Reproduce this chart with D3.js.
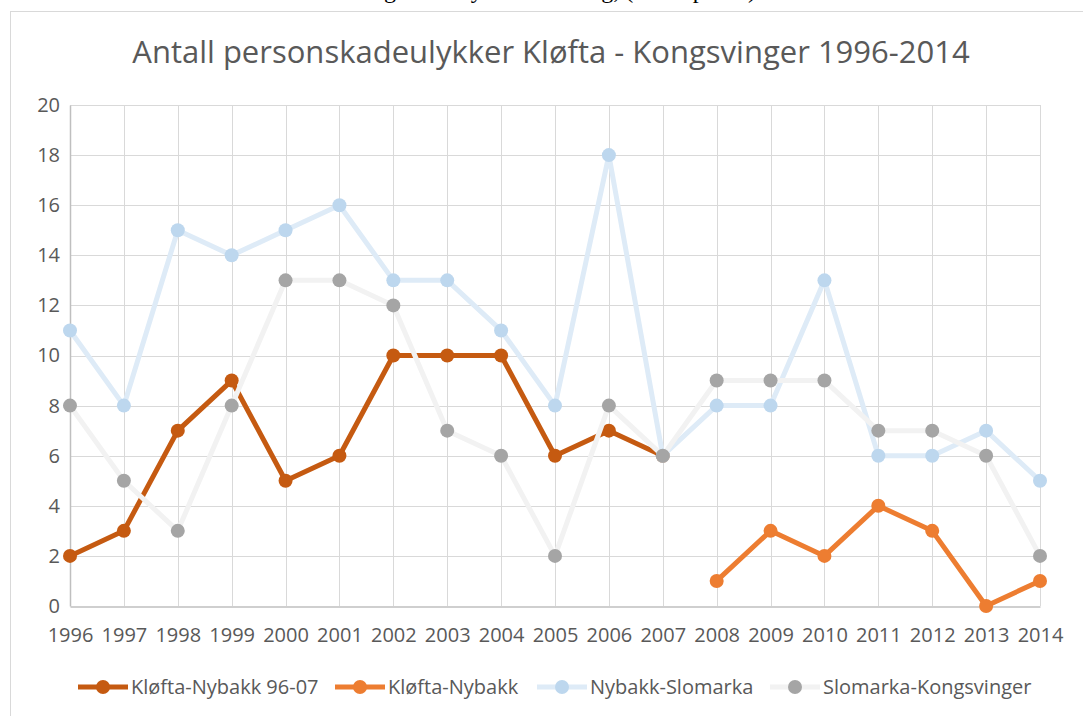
<!DOCTYPE html>
<html>
<head>
<meta charset="utf-8">
<script src="https://cdn.jsdelivr.net/npm/d3@7"></script>
<style>
  body { margin: 0; background: #fff; }
  text { font-family: "Open Sans", "Noto Sans", sans-serif; }
</style>
</head>
<body>
<script>
// data
const years = [1996, 1997, 1998, 1999, 2000, 2001, 2002, 2003, 2004, 2005, 2006, 2007, 2008, 2009, 2010, 2011, 2012, 2013, 2014]
const seriesNames = ["Kløfta-Nybakk 96-07", "Kløfta-Nybakk", "Nybakk-Slomarka", "Slomarka-Kongsvinger"]
const klofta9607 = [2, 3, 7, 9, 5, 6, 10, 10, 10, 6, 7, 6, null, null, null, null, null, null, null]
const kloftaNybakk = [null, null, null, null, null, null, null, null, null, null, null, null, 1, 3, 2, 4, 3, 0, 1]
const nybakkSlomarka = [11, 8, 15, 14, 15, 16, 13, 13, 11, 8, 18, 6, 8, 8, 13, 6, 6, 7, 5]
const slomarkaKongsvinger = [8, 5, 3, 8, 13, 13, 12, 7, 6, 2, 8, 6, 9, 9, 9, 7, 7, 6, 2]
const yTicks = [0, 2, 4, 6, 8, 10, 12, 14, 16, 18, 20]

const styles = [
  { line: "#c55a11", dot: "#c55a11" },
  { line: "#ed7d31", dot: "#ed7d31" },
  { line: "#deebf7", dot: "#bdd7ee" },
  { line: "#f2f2f2", dot: "#a5a5a5" }
]
const allValues = [klofta9607, kloftaNybakk, nybakkSlomarka, slomarkaKongsvinger]

let width = 1083
let height = 716
let margin = { top: 105, right: 43, bottom: 110, left: 70 }

const svg = d3.select("body").append("svg")
  .attr("width", width)
  .attr("height", height)

// caption from the page above the chart, only its lower edge shows
svg.append("text")
  .attr("x", 560).attr("y", -2)
  .attr("text-anchor", "middle")
  .style("font-family", "'Liberation Serif', serif")
  .style("font-size", "24px")
  .attr("fill", "#000")
  .text("Figur 3: Ulykkesutvikling, (antall per år)")

// chart frame
svg.append("rect")
  .attr("x", 10.5).attr("y", 11.5)
  .attr("width", width).attr("height", height)
  .attr("fill", "#fff")
  .attr("stroke", "#d9d9d9")

const x = d3.scalePoint()
  .domain(years)
  .range([margin.left, width - margin.right])

const y = d3.scaleLinear()
  .domain([0, 20])
  .range([height - margin.bottom, margin.top])

// title
svg.append("text")
  .attr("x", 551).attr("y", 63)
  .attr("text-anchor", "middle")
  .attr("fill", "#595959")
  .style("font-size", "31px")
  .text("Antall personskadeulykker Kløfta - Kongsvinger 1996-2014")

// grid
svg.append("g")
  .selectAll("line")
  .data(yTicks.slice(1))
  .join("line")
  .attr("x1", margin.left).attr("x2", width - margin.right)
  .attr("y1", d => Math.round(y(d)) + 0.5).attr("y2", d => Math.round(y(d)) + 0.5)
  .attr("stroke", "#d9d9d9")

svg.append("g")
  .selectAll("line")
  .data(years)
  .join("line")
  .attr("x1", d => Math.round(x(d)) + 0.5).attr("x2", d => Math.round(x(d)) + 0.5)
  .attr("y1", y(20)).attr("y2", y(0))
  .attr("stroke", "#d9d9d9")

// axes
const gx = svg.append("g")
  .attr("transform", `translate(0,${Math.round(y(0)) + 0.5})`)
  .call(d3.axisBottom(x).tickSize(0).tickPadding(21))
gx.select(".domain").attr("stroke", "#bfbfbf").attr("stroke-width", 1.5)
gx.selectAll("text").attr("fill", "#595959").style("font-size", "20px")

const gy = svg.append("g")
  .attr("transform", `translate(${margin.left},0)`)
  .call(d3.axisLeft(y).tickValues(yTicks).tickSize(0).tickPadding(10))
gy.select(".domain").attr("stroke", "#bfbfbf").attr("stroke-width", 1.5)
gy.selectAll("text").attr("fill", "#595959").style("font-size", "20px")

// series
const line = d3.line()
  .defined(d => d.v !== null)
  .x(d => x(d.year))
  .y(d => y(d.v))

allValues.forEach((vals, i) => {
  const pts = years.map((yr, j) => ({ year: yr, v: vals[j] }))
  const g = svg.append("g")
  g.append("path")
    .datum(pts)
    .attr("d", line)
    .attr("fill", "none")
    .attr("stroke", styles[i].line)
    .attr("stroke-width", 5)
    .attr("stroke-linejoin", "round")
  g.selectAll("circle")
    .data(pts.filter(d => d.v !== null))
    .join("circle")
    .attr("cx", d => x(d.year))
    .attr("cy", d => y(d.v))
    .attr("r", 7)
    .attr("fill", styles[i].dot)
})

// legend
const legendX = [78, 335, 537, 770]
const legend = svg.append("g")
  .selectAll("g")
  .data(seriesNames)
  .join("g")
  .attr("transform", (d, i) => `translate(${legendX[i]},687)`)
legend.append("line")
  .attr("x1", 0).attr("x2", 50)
  .attr("stroke", (d, i) => styles[i].line)
  .attr("stroke-width", 5)
legend.append("circle")
  .attr("cx", 25).attr("r", 7)
  .attr("fill", (d, i) => styles[i].dot)
legend.append("text")
  .attr("x", 53).attr("dy", "0.35em")
  .attr("fill", "#595959")
  .style("font-size", "20px")
  .text(d => d)
</script>
</body>
</html>
